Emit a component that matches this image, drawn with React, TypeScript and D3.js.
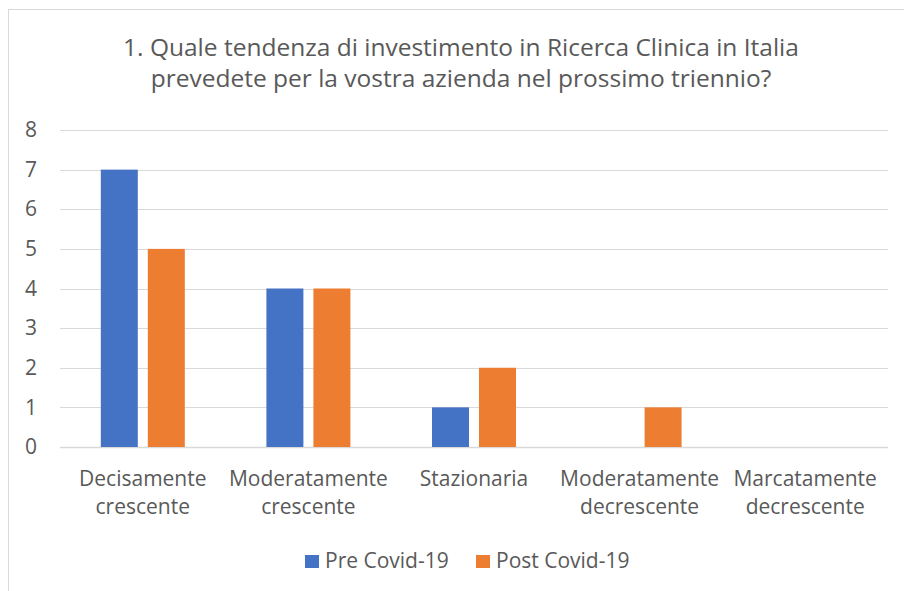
import { useEffect, useRef } from "react";
import * as d3 from "d3";

const titleLines = [
  "1. Quale tendenza di investimento in Ricerca Clinica in Italia",
  "prevedete per la vostra azienda nel prossimo triennio?",
];
const categories = [
  ["Decisamente", "crescente"],
  ["Moderatamente", "crescente"],
  ["Stazionaria"],
  ["Moderatamente", "decrescente"],
  ["Marcatamente", "decrescente"],
];
const seriesNames = ["Pre Covid-19", "Post Covid-19"];
const preCovid = [7, 4, 1, 0, 0];
const postCovid = [5, 4, 2, 1, 0];
const yTicks = [0, 1, 2, 3, 4, 5, 6, 7, 8];

const colors = ["#4472C4", "#ED7D31"];
const FONT = "'Open Sans', sans-serif";
const TEXT = "#595959";

export default function App() {
  const ref = useRef<SVGSVGElement>(null);

  useEffect(() => {
    if (!ref.current) return;
    const width = 904;
    const height = 591;
    const margin = { top: 130, right: 16, bottom: 144, left: 60 };

    const svg = d3.select(ref.current);
    svg.selectAll("*").remove();
    svg.attr("width", width).attr("height", height);

    svg.append("rect").attr("width", width).attr("height", height).attr("fill", "#fff");
    // chart frame (right/bottom edges fall outside the crop)
    svg.append("rect")
      .attr("x", 8.5).attr("y", 9.5)
      .attr("width", 1000).attr("height", 1000)
      .attr("fill", "none").attr("stroke", "#d9d9d9");

    const keys = categories.map((c) => c.join(" "));
    const x0 = d3.scaleBand<string>()
      .domain(keys)
      .range([margin.left, width - margin.right])
      .padding(0);
    const x1 = d3.scaleBand<string>()
      .domain(seriesNames)
      .range([0, x0.bandwidth()])
      .paddingInner(0.213)
      .paddingOuter(0.868);
    const y = d3.scaleLinear().domain([0, 8]).range([height - margin.bottom, margin.top]);

    // Title
    svg.append("g")
      .selectAll("text")
      .data(titleLines)
      .join("text")
      .attr("x", 461)
      .attr("y", (_, i) => 56 + i * 31)
      .attr("text-anchor", "middle")
      .attr("font-family", FONT)
      .attr("font-size", 24.5)
      .attr("fill", TEXT)
      .text((d) => d);

    // Y axis labels
    svg.append("g")
      .attr("transform", `translate(${margin.left},0)`)
      .call(d3.axisLeft(y).tickValues(yTicks).tickSize(0).tickPadding(23))
      .call((g) => {
        g.select(".domain").remove();
        g.selectAll(".tick line").remove();
        g.selectAll(".tick text")
          .attr("fill", TEXT)
          .attr("font-family", FONT)
          .attr("font-size", 21);
      });

    // Grid
    svg.append("g")
      .selectAll("line")
      .data(yTicks)
      .join("line")
      .attr("x1", margin.left)
      .attr("x2", width - margin.right)
      .attr("y1", (d) => Math.round(y(d)) + 0.5)
      .attr("y2", (d) => Math.round(y(d)) + 0.5)
      .attr("stroke", "#d9d9d9")
      .attr("stroke-width", (d) => (d === 0 ? 1.5 : 1));

    // Bars
    const values = [preCovid, postCovid];
    const groups = svg.append("g")
      .selectAll("g")
      .data(keys)
      .join("g")
      .attr("transform", (d) => `translate(${x0(d)},0)`);

    groups.selectAll("rect")
      .data((_, i) => seriesNames.map((s, j) => ({ s, v: values[j][i], c: colors[j] })))
      .join("rect")
      .attr("x", (d) => x1(d.s)!)
      .attr("width", x1.bandwidth())
      .attr("y", (d) => y(d.v))
      .attr("height", (d) => y(0) - y(d.v))
      .attr("fill", (d) => d.c);

    // Category labels
    groups.append("text")
      .attr("x", x0.bandwidth() / 2)
      .attr("text-anchor", "middle")
      .attr("font-family", FONT)
      .attr("font-size", 21)
      .attr("fill", TEXT)
      .selectAll("tspan")
      .data((_, i) => categories[i])
      .join("tspan")
      .attr("x", x0.bandwidth() / 2)
      .attr("y", (_, i) => 486 + i * 28)
      .text((d) => d);

    // Legend
    const legendX = [305, 476];
    const legend = svg.append("g")
      .selectAll("g")
      .data(seriesNames)
      .join("g")
      .attr("transform", (_, i) => `translate(${legendX[i]},555)`);
    legend.append("rect")
      .attr("width", 14).attr("height", 13)
      .attr("fill", (_, i) => colors[i]);
    legend.append("text")
      .attr("x", 20).attr("y", 12.5)
      .attr("font-family", FONT)
      .attr("font-size", 21)
      .attr("fill", TEXT)
      .text((d) => d);
  }, []);

  return <svg ref={ref} style={{ position: "absolute", left: 0, top: 0, display: "block" }} />;
}
